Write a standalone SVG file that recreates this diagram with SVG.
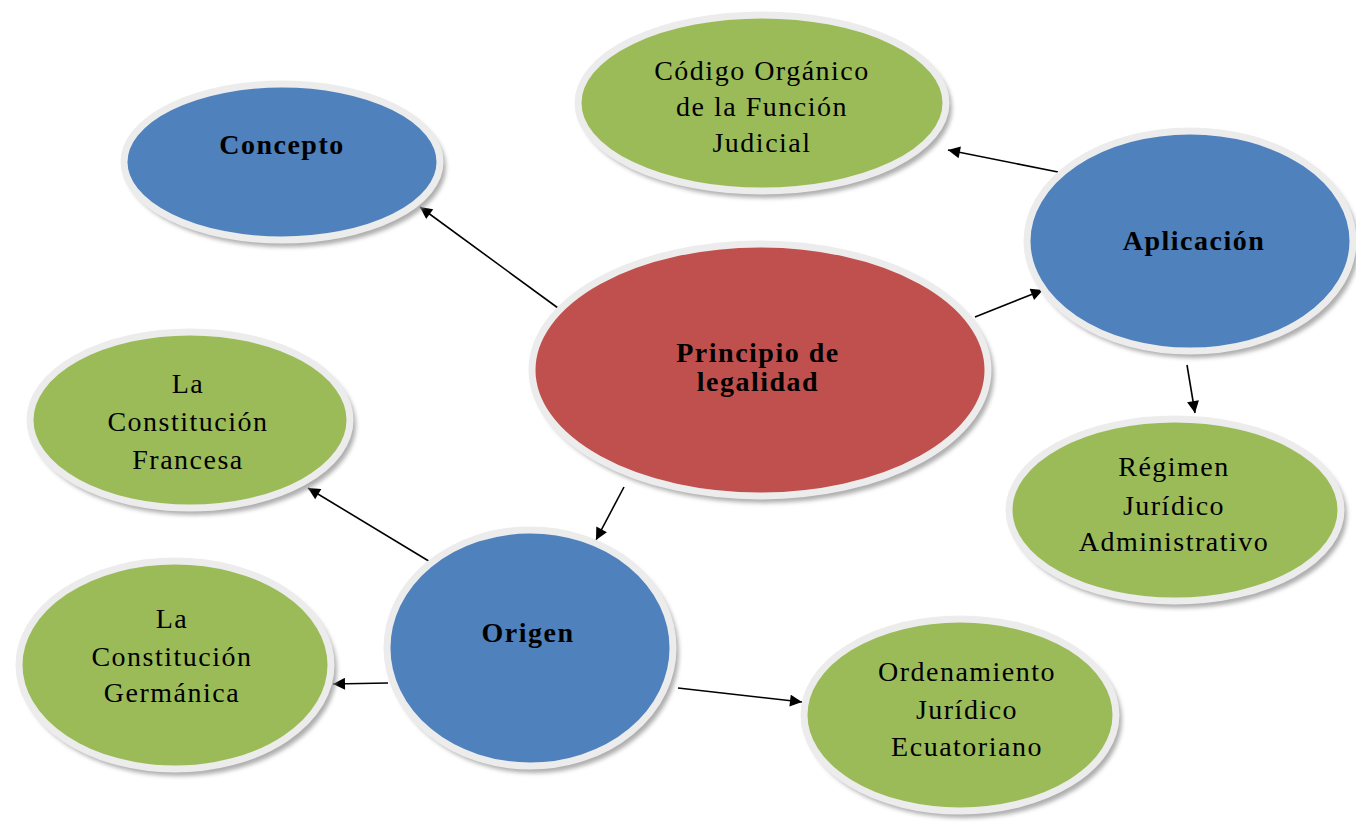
<svg xmlns="http://www.w3.org/2000/svg" width="1356" height="838" viewBox="0 0 1356 838">
<defs>
<filter id="sh" x="-10%" y="-10%" width="120%" height="120%"><feGaussianBlur stdDeviation="2"/></filter>
<marker id="ah" viewBox="0 0 10 10" refX="10" refY="5" markerWidth="15" markerHeight="12" markerUnits="userSpaceOnUse" orient="auto"><path d="M0,0 L10,5 L0,10 z" fill="#000"/></marker>
<style>
.shd{fill:#9a9a9a;filter:url(#sh);opacity:0.8}
.ring{stroke:#ececec;stroke-width:7}
.blue{fill:#4f81bd}
.green{fill:#9bbb59}
.red{fill:#c0504d}
text{font-family:"Liberation Serif","Times New Roman",serif;font-size:28px;fill:#000;text-anchor:middle;letter-spacing:1.5px}
.b{font-weight:bold;letter-spacing:1.5px}
.con line{stroke:#000;stroke-width:1.6;marker-end:url(#ah)}
</style>
</defs>
<rect width="1356" height="838" fill="#fff"/>
<g class="con">
<line x1="558" y1="308" x2="420" y2="207"/>
<line x1="1058" y1="172" x2="948" y2="150"/>
<line x1="975" y1="317" x2="1043" y2="290"/>
<line x1="1187" y1="365" x2="1195" y2="413"/>
<line x1="624" y1="487" x2="596" y2="540"/>
<line x1="432" y1="563" x2="308" y2="488"/>
<line x1="388" y1="683" x2="333" y2="684"/>
<line x1="678" y1="688" x2="802" y2="702"/>
</g>
<g id="concepto">
<ellipse class="shd" cx="286" cy="167" rx="160" ry="80"/>
<ellipse class="ring blue" cx="282" cy="162" rx="158" ry="78"/>
<text class="b" x="282" y="154">Concepto</text>
</g>
<g id="codigo">
<ellipse class="shd" cx="766" cy="108" rx="186" ry="90"/>
<ellipse class="ring green" cx="762" cy="103" rx="184" ry="88"/>
<text x="762" y="80">Código Orgánico</text>
<text x="762" y="116">de la Función</text>
<text x="762" y="152">Judicial</text>
</g>
<g id="principio">
<ellipse class="shd" cx="764" cy="375" rx="230" ry="128"/>
<ellipse class="ring red" cx="760" cy="370" rx="228" ry="126"/>
<text class="b" x="758" y="362">Principio de</text>
<text class="b" x="758" y="391">legalidad</text>
</g>
<g id="aplicacion">
<ellipse class="shd" cx="1194" cy="246" rx="165" ry="112"/>
<ellipse class="ring blue" cx="1190" cy="241" rx="163" ry="110"/>
<text class="b" x="1194" y="250">Aplicación</text>
</g>
<g id="francesa">
<ellipse class="shd" cx="194" cy="425" rx="162" ry="90"/>
<ellipse class="ring green" cx="190" cy="420" rx="160" ry="88"/>
<text x="188" y="393">La</text>
<text x="188" y="431">Constitución</text>
<text x="188" y="469">Francesa</text>
</g>
<g id="regimen">
<ellipse class="shd" cx="1179" cy="515" rx="168" ry="93"/>
<ellipse class="ring green" cx="1175" cy="510" rx="166" ry="91"/>
<text x="1174" y="476">Régimen</text>
<text x="1174" y="515">Jurídico</text>
<text x="1174" y="551">Administrativo</text>
</g>
<g id="origen">
<ellipse class="shd" cx="534" cy="653" rx="145" ry="120"/>
<ellipse class="ring blue" cx="530" cy="648" rx="143" ry="118"/>
<text class="b" x="528" y="642">Origen</text>
</g>
<g id="germanica">
<ellipse class="shd" cx="179" cy="670" rx="158" ry="106"/>
<ellipse class="ring green" cx="175" cy="665" rx="156" ry="104"/>
<text x="172" y="628">La</text>
<text x="172" y="666">Constitución</text>
<text x="172" y="702">Germánica</text>
</g>
<g id="ordenamiento">
<ellipse class="shd" cx="964" cy="720" rx="158" ry="98"/>
<ellipse class="ring green" cx="960" cy="715" rx="156" ry="96"/>
<text x="967" y="681">Ordenamiento</text>
<text x="967" y="719">Jurídico</text>
<text x="967" y="756">Ecuatoriano</text>
</g>
</svg>
